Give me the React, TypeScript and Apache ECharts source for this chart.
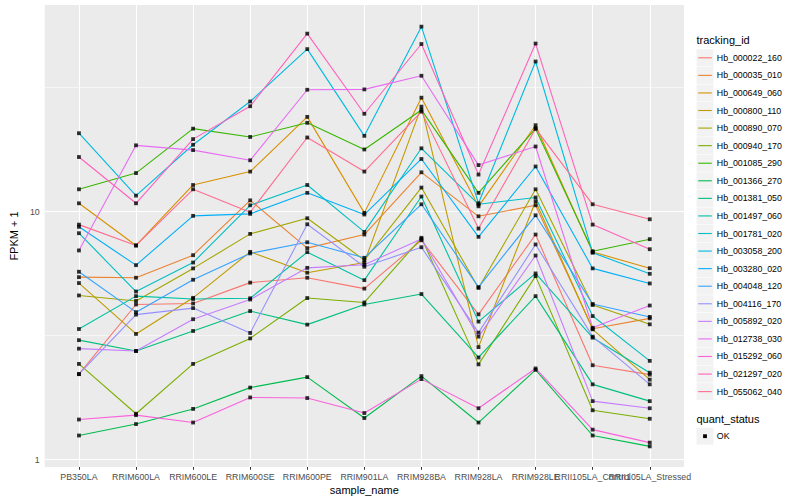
import React, { useEffect, useRef } from "react";
import * as echarts from "echarts";

const categories = [
  "PB350LA", "RRIM600LA", "RRIM600LE", "RRIM600SE", "RRIM600PE", "RRIM901LA",
  "RRIM928BA", "RRIM928LA", "RRIM928LE", "RRII105LA_Control", "RRII105LA_Stressed",
];

const trackingIds = [
  "Hb_000022_160", "Hb_000035_010", "Hb_000649_060", "Hb_000800_110", "Hb_000890_070",
  "Hb_000940_170", "Hb_001085_290", "Hb_001366_270", "Hb_001381_050", "Hb_001497_060",
  "Hb_001781_020", "Hb_003058_200", "Hb_003280_020", "Hb_004048_120", "Hb_004116_170",
  "Hb_005892_020", "Hb_012738_030", "Hb_015292_060", "Hb_021297_020", "Hb_055062_040",
];

const lineColors = [
  "#F8766D", "#EA8331", "#D89000", "#C09B00", "#A3A500", "#7CAE00", "#39B600", "#00BB4E",
  "#00BF7D", "#00C1A3", "#00BFC4", "#00BAE0", "#00B0F6", "#35A2FF", "#9590FF", "#C77CFF",
  "#E76BF3", "#FA62DB", "#FF62BC", "#FF6C91",
];

// FPKM + 1 per sample (order of categories)
const hb000022_160 = [2.21, 4.22, 4.26, 5.17, 5.41, 4.89, 7.66, 3.85, 8.08, 2.40, 2.20];
const hb000035_010 = [5.44, 5.41, 6.67, 11.1, 7.12, 8.08, 14.4, 9.57, 10.6, 3.37, 3.71];
const hb000649_060 = [10.8, 7.30, 12.8, 14.5, 24.1, 9.88, 28.8, 10.5, 22.3, 6.87, 5.91];
const hb000800_110 = [5.15, 3.21, 4.49, 6.88, 5.67, 6.23, 26.5, 2.84, 11.0, 3.35, 2.10];
const hb000890_070 = [4.59, 4.36, 5.90, 8.13, 9.40, 6.37, 12.5, 4.92, 12.3, 4.20, 3.51];
const hb000940_170 = [2.43, 1.53, 2.43, 3.08, 4.48, 4.30, 7.84, 2.42, 5.49, 1.58, 1.46];
const hb001085_290 = [12.3, 14.3, 21.6, 20.0, 22.8, 17.8, 25.7, 11.9, 21.6, 6.92, 7.74];
const hb001366_270 = [1.25, 1.39, 1.60, 1.95, 2.15, 1.47, 2.17, 1.41, 2.30, 1.25, 1.13];
const hb001381_050 = [3.03, 2.74, 3.30, 3.97, 3.50, 4.22, 4.65, 2.58, 4.56, 2.01, 1.72];
const hb001497_060 = [3.36, 4.56, 4.44, 4.47, 6.86, 5.29, 11.5, 3.60, 5.63, 3.10, 2.24];
const hb001781_020 = [8.18, 4.76, 6.23, 10.6, 12.8, 8.28, 18.0, 10.7, 11.4, 3.79, 2.50];
const hb003058_200 = [20.7, 11.6, 18.6, 27.8, 45.2, 20.2, 55.7, 10.8, 40.3, 6.82, 5.61];
const hb003280_020 = [8.68, 6.08, 9.61, 9.79, 11.9, 9.73, 16.3, 7.91, 15.2, 5.90, 5.13];
const hb004048_120 = [5.72, 3.93, 5.31, 6.78, 7.52, 6.51, 10.7, 4.96, 9.66, 4.24, 3.76];
const hb004116_170 = [2.21, 3.84, 4.08, 3.24, 8.89, 5.99, 7.18, 3.25, 7.37, 3.13, 2.01];
const hb005892_020 = [2.80, 2.74, 3.68, 4.42, 5.93, 6.10, 7.76, 3.13, 6.65, 1.72, 1.61];
const hb012738_030 = [6.97, 18.5, 17.7, 16.1, 31.0, 31.1, 35.3, 15.4, 18.3, 3.40, 4.18];
const hb015292_060 = [1.45, 1.51, 1.41, 1.78, 1.77, 1.54, 2.11, 1.61, 2.33, 1.32, 1.17];
const hb021297_020 = [16.6, 10.8, 19.6, 26.6, 52.2, 24.8, 47.4, 14.1, 47.6, 8.86, 7.05];
const hb055062_040 = [8.86, 7.30, 12.3, 9.94, 19.9, 14.5, 25.3, 8.54, 21.6, 10.7, 9.31];

const seriesValues = [
  hb000022_160, hb000035_010, hb000649_060, hb000800_110, hb000890_070,
  hb000940_170, hb001085_290, hb001366_270, hb001381_050, hb001497_060,
  hb001781_020, hb003058_200, hb003280_020, hb004048_120, hb004116_170,
  hb005892_020, hb012738_030, hb015292_060, hb021297_020, hb055062_040,
];

const yTickValues = [1, 10];
const yMinorBreaks = [3.1623, 31.623];
const quantStatus = ["OK"];

const FONT = '"Liberation Sans", Arial, Helvetica, sans-serif';
const Y_MIN = 0.933;
const Y_MAX = 68.1;

export default function App() {
  const ref = useRef<HTMLDivElement>(null);

  useEffect(() => {
    if (!ref.current) return;
    const chart = echarts.init(ref.current, undefined, { renderer: "svg" });
    const idx = categories.map((_, i) => i);

    const white = (w: number) => ({ color: "#FFFFFF", width: w, type: "solid" as const, opacity: 1 });

    const gridSeries: any = {
      type: "line",
      data: [],
      z: 1,
      silent: true,
      symbol: "none",
      markLine: {
        z: 1,
        silent: true,
        symbol: ["none", "none"],
        label: { show: false },
        emphasis: { disabled: true },
        animation: false,
        data: [
          ...yMinorBreaks.map((v) => ({ yAxis: v, lineStyle: white(0.55) })),
          ...yTickValues.map((v) => ({ yAxis: v, lineStyle: white(1.1) })),
          ...idx.map((i) => ({ xAxis: i, lineStyle: white(1.1) })),
        ],
      },
    };

    const lineSeries = trackingIds.map((id, k) => ({
      type: "line",
      name: id,
      data: seriesValues[k].map((v, i) => [i, v]),
      symbol: "none",
      z: 2,
      silent: true,
      lineStyle: { color: lineColors[k], width: 1.1 },
      itemStyle: { color: lineColors[k] },
    }));

    const pointSeries = {
      type: "scatter",
      data: seriesValues.flatMap((vals) => vals.map((v, i) => [i, v])),
      symbol: "rect",
      symbolSize: 3.8,
      itemStyle: { color: "#000000", borderWidth: 0 },
      z: 3,
      silent: true,
    };

    const legendX = 696.5;
    const keyTop = 49.3;
    const step = 17.57;
    const graphics: any[] = [
      {
        type: "text",
        x: legendX,
        y: 40.3,
        style: { text: "tracking_id", fontSize: 11, fontFamily: FONT, fill: "#000", verticalAlign: "middle", align: "left" },
      },
    ];
    trackingIds.forEach((id, k) => {
      const top = keyTop + k * step;
      graphics.push({ type: "rect", shape: { x: legendX, y: top, width: 17, height: 17 }, style: { fill: "#F2F2F2" } });
      graphics.push({
        type: "line",
        shape: { x1: legendX + 1.7, y1: top + 8.5, x2: legendX + 15.3, y2: top + 8.5 },
        style: { stroke: lineColors[k], lineWidth: 1.1 },
      });
      graphics.push({
        type: "text",
        x: legendX + 20.3,
        y: top + 8.5,
        style: { text: id, fontSize: 8.8, fontFamily: FONT, fill: "#000", verticalAlign: "middle", align: "left" },
      });
    });
    graphics.push({
      type: "text",
      x: legendX,
      y: 419,
      style: { text: "quant_status", fontSize: 11, fontFamily: FONT, fill: "#000", verticalAlign: "middle", align: "left" },
    });
    quantStatus.forEach((q, k) => {
      const top = 427.7 + k * step;
      graphics.push({ type: "rect", shape: { x: legendX, y: top, width: 17, height: 17 }, style: { fill: "#F2F2F2" } });
      graphics.push({ type: "rect", shape: { x: legendX + 6.6, y: top + 6.6, width: 3.8, height: 3.8 }, style: { fill: "#000" } });
      graphics.push({
        type: "text",
        x: legendX + 20.3,
        y: top + 8.5,
        style: { text: q, fontSize: 8.8, fontFamily: FONT, fill: "#000", verticalAlign: "middle", align: "left" },
      });
    });

    const baseOption: any = {
      animation: false,
      backgroundColor: "#FFFFFF",
      textStyle: { fontFamily: FONT },
      grid: {
        left: 35,
        right: 116,
        top: 5,
        bottom: 32,
        show: true,
        backgroundColor: "#EBEBEB",
        borderWidth: 0,
        containLabel: false,
      },
      xAxis: {
        type: "value",
        min: -0.6,
        max: 10.6,
        name: "sample_name",
        nameLocation: "middle",
        nameGap: 17,
        nameTextStyle: { fontSize: 11, color: "#000", fontFamily: FONT, verticalAlign: "top" },
        axisLine: { show: false },
        splitLine: { show: false },
        axisTick: { show: true, length: 2.75, lineStyle: { color: "#333333", width: 1 }, customValues: idx },
        axisLabel: { show: false },
      },
      yAxis: {
        type: "log",
        logBase: 10,
        min: Y_MIN,
        max: Y_MAX,
        name: "FPKM + 1",
        nameLocation: "middle",
        nameGap: 18,
        nameRotate: 90,
        nameTextStyle: { fontSize: 11, color: "#000", fontFamily: FONT },
        axisLine: { show: false },
        splitLine: { show: false },
        axisTick: { show: true, length: 2.75, lineStyle: { color: "#333333", width: 1 }, customValues: yTickValues },
        axisLabel: {
          customValues: yTickValues,
          formatter: (v: number) => String(v),
          fontSize: 8.8,
          color: "#4D4D4D",
          fontFamily: FONT,
          margin: 5,
        },
      },
      graphic: graphics,
      series: [gridSeries, ...lineSeries, pointSeries],
    };

    chart.setOption(baseOption);

    // x tick labels placed at the axis' own pixel positions (all shown, overlapping like the reference)
    const labelGraphics = categories.map((name, i) => {
      const p = chart.convertToPixel({ xAxisIndex: 0, yAxisIndex: 0 }, [i, Y_MIN]) as number[];
      return {
        type: "text",
        x: p[0],
        y: p[1] + 5,
        style: { text: name, fontSize: 8.8, fontFamily: FONT, fill: "#4D4D4D", align: "center", verticalAlign: "top" },
      };
    });
    chart.setOption({ graphic: [...graphics, ...labelGraphics] } as any);

    return () => chart.dispose();
  }, []);

  return <div ref={ref} style={{ position: "absolute", left: 0, top: 0, width: 800, height: 500 }} />;
}
